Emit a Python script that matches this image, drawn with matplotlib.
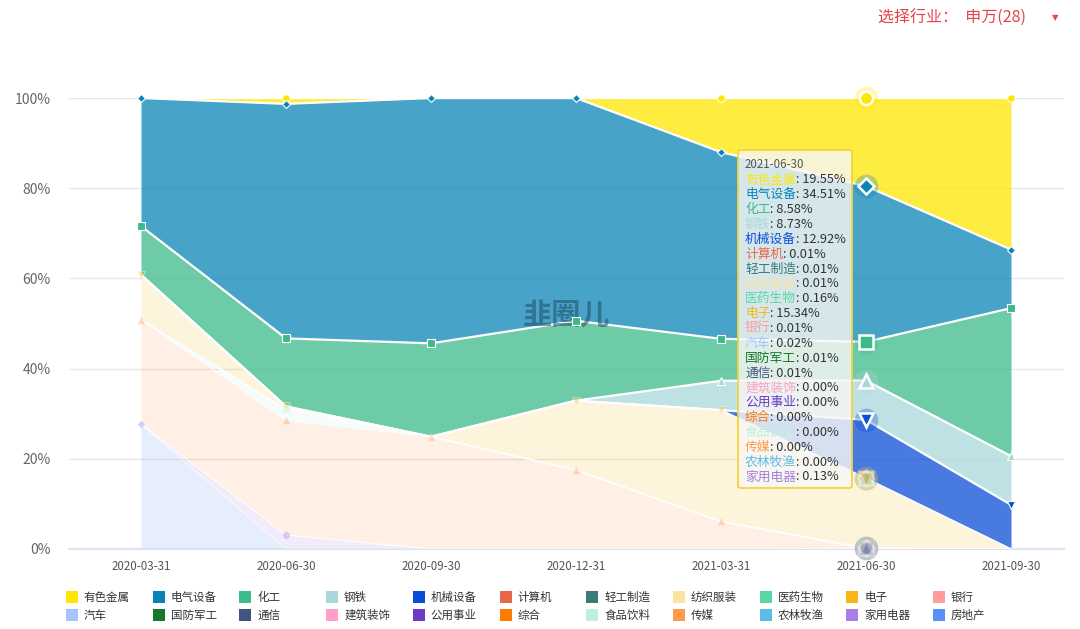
import numpy as np
import matplotlib.pyplot as plt
from matplotlib.patches import FancyBboxPatch, Rectangle

plt.rcParams['font.family'] = ['Noto Sans CJK SC', 'DejaVu Sans']

W, H = 1080, 629

dates = ['2020-03-31', '2020-06-30', '2020-09-30', '2020-12-31',
         '2021-03-31', '2021-06-30', '2021-09-30']

names = ['有色金属', '电气设备', '化工', '钢铁', '机械设备', '计算机', '轻工制造',
         '纺织服装', '医药生物', '电子', '银行', '汽车', '国防军工', '通信',
         '建筑装饰', '公用事业', '综合', '食品饮料', '传媒', '农林牧渔', '家用电器', '房地产']

colors = ['#FFE600', '#0A84B8', '#3DBA8A', '#A9D8DA', '#0A4DD6', '#E8664A', '#3C7A78',
          '#FDE3A0', '#5AD6A4', '#F5B818', '#FF9C9C', '#A8C4FF', '#16782A', '#405580',
          '#FF9EC7', '#6C3CC4', '#FF7A00', '#BDEFD9', '#FF9A4A', '#5BBDE6', '#A77EE4', '#5B8FF9']

# share (%) per industry and report date
youse   = [0, 1.3, 0, 0, 12.0, 19.55, 33.6]
dianqi  = [28.4, 52.0, 54.4, 49.4, 41.4, 34.51, 13.0]
huagong = [10.8, 15.1, 20.7, 17.7, 9.3, 8.58, 32.8]
gangtie = [0, 0, 0, 0, 6.5, 8.73, 10.8]
jixie   = [0, 0, 0, 0, 0, 12.92, 9.8]
jisuanji = [0, 0, 0, 0, 0, 0.01, 0]
qinggong = [0, 0, 0, 0, 0, 0.01, 0]
fangzhi = [0, 0, 0, 0, 0, 0.01, 0]
yiyao   = [0, 0, 0, 0, 0, 0.16, 0]
dianzi  = [10.0, 0.6, 0, 15.4, 24.7, 15.34, 0]
yinhang = [0, 0, 0, 0, 0, 0.01, 0]
qiche   = [0, 0, 0, 0, 0, 0.02, 0]
guofang = [0, 0, 0, 0, 0, 0.01, 0]
tongxin = [0, 0, 0, 0, 0, 0.01, 0]
jianzhu = [0, 0, 0, 0, 0, 0.00, 0]
gongyong = [0, 0, 0, 0, 0, 0.00, 0]
zonghe  = [0, 0, 0, 0, 0, 0.00, 0]
shipin  = [0, 2.5, 0, 0, 0, 0.00, 0]
chuanmei = [23.1, 25.4, 24.9, 17.5, 6.1, 0.00, 0]
nonglin = [0, 0, 0, 0, 0, 0.00, 0]
jiadian = [0, 3.1, 0, 0, 0, 0.13, 0]
fangdichan = [27.7, 0, 0, 0, 0, 0, 0]

series = [youse, dianqi, huagong, gangtie, jixie, jisuanji, qinggong, fangzhi, yiyao,
          dianzi, yinhang, qiche, guofang, tongxin, jianzhu, gongyong, zonghe, shipin,
          chuanmei, nonglin, jiadian, fangdichan]

hover = 5  # 2021-06-30 is the hovered date
n_bold = 5  # series drawn emphasised
marker_cycle = ['o', 'D', 's', '^', 'v']

vals = np.array(series, dtype=float)
# first series sits on top, so stack from the last one up
tops = np.cumsum(vals[::-1], axis=0)[::-1]
bottoms = tops - vals
x = np.arange(len(dates))


def fig_xy(px, py):
    return px / W, 1 - py / H


fig = plt.figure(figsize=(W / 100, H / 100), dpi=100)
fig.patch.set_facecolor('white')
left, right, top, bottom = 69, 1064, 98, 549
ax = fig.add_axes([left / W, 1 - bottom / H, (right - left) / W, (bottom - top) / H])

step = 145.0
ax.set_xlim(-(141 - left) / step, (right - 141) / step)
ax.set_ylim(0, 100)

for i in range(len(names) - 1, -1, -1):
    bold = i < n_bold
    a = 0.75 if bold else 0.15
    ax.fill_between(x, bottoms[i], tops[i], color=colors[i], alpha=a, lw=0, zorder=2)
    ax.plot(x, tops[i], color='white', lw=1.6 if bold else 1.0, alpha=1 if bold else 0.5, zorder=3)

for i in range(len(names)):
    bold = i < n_bold
    m = marker_cycle[i % 5]
    for j in range(len(dates)):
        if vals[i, j] <= 0:
            continue
        if j == hover:
            ax.plot(x[j], tops[i, j], marker='o', ms=17, color=colors[i], alpha=0.3 if bold else 0.12,
                    mec='none', zorder=5, clip_on=False)
            ax.plot(x[j], tops[i, j], marker=m, ms=9.5 if m != 'D' else 8, mfc=colors[i], mec='white',
                    mew=1.8, alpha=1 if bold else 0.3, zorder=6, clip_on=False)
        else:
            ax.plot(x[j], tops[i, j], marker=m, ms=5.5 if m != 'D' else 4.5, mfc=colors[i], mec='white',
                    mew=0.8, alpha=1 if bold else 0.35, zorder=6, clip_on=False)

ax.set_yticks([0, 20, 40, 60, 80, 100])
ax.set_yticklabels(['0%', '20%', '40%', '60%', '80%', '100%'])
ax.set_xticks(x)
ax.set_xticklabels(dates)
ax.tick_params(axis='y', length=0, pad=13, labelsize=10, labelcolor='#666666')
ax.tick_params(axis='x', length=0, pad=8, labelsize=8.3, labelcolor='#555555')
ax.grid(axis='y', color='#E6E6E6', lw=1, zorder=0)
ax.set_axisbelow(True)
for s in ['left', 'right', 'top']:
    ax.spines[s].set_visible(False)
ax.spines['bottom'].set_color('#DDE3F2')
ax.spines['bottom'].set_linewidth(1.5)

# watermark
ax.text(0.5, 0.52, '韭圈儿', transform=ax.transAxes, fontsize=21, fontweight='bold',
        color='#1d4f63', alpha=0.55, ha='center', va='center', zorder=4)

# tooltip
tx0, ty0, tx1, ty1 = 738, 150, 852, 488
bx, by = fig_xy(tx0, ty1)
box = FancyBboxPatch((bx, by), (tx1 - tx0) / W, (ty1 - ty0) / H,
                     boxstyle='round,pad=0,rounding_size=0.003', transform=fig.transFigure,
                     facecolor=(0.97, 0.97, 0.96, 0.82), edgecolor='#F2D33C', lw=1.3,
                     zorder=20, clip_on=False)
ax.add_patch(box)
ax.text(*fig_xy(745, 165), dates[hover], transform=fig.transFigure, fontsize=8.3,
        color='#555555', ha='left', va='center', zorder=21)
for k in range(len(names) - 1):
    ty = 180 + k * 14.85
    t = ax.text(*fig_xy(745, ty), names[k], transform=fig.transFigure, fontsize=9.2,
                color=colors[k], ha='left', va='center', zorder=21)
    ax.annotate(': %.2f%%' % vals[k, hover], xy=(1, 0.5), xycoords=t, fontsize=9.2,
                color='#333333', ha='left', va='center', zorder=21, annotation_clip=False)

# legend, two rows
col_x = [66 + c * 86.7 for c in range(11)]
row_y = [597, 615]
for k, nm in enumerate(names):
    r, c = divmod(k, 11)
    sx, sy = fig_xy(col_x[c], row_y[r] + 6)
    fig.add_artist(Rectangle((sx, sy), 12 / W, 12 / H, transform=fig.transFigure,
                             facecolor=colors[k], edgecolor='none'))
    fig.text(*fig_xy(col_x[c] + 18, row_y[r]), nm, fontsize=8.3, color='#333333',
             ha='left', va='center')

# industry selector, top right
fig.text(*fig_xy(878, 18), '选择行业：  申万(28)', fontsize=11.5, color='#E8434B',
         ha='left', va='center')
fig.text(*fig_xy(1055, 18), '▼', fontsize=6, color='#E8434B', ha='center', va='center',
         family='DejaVu Sans')

fig.savefig('out.png', dpi=100)
